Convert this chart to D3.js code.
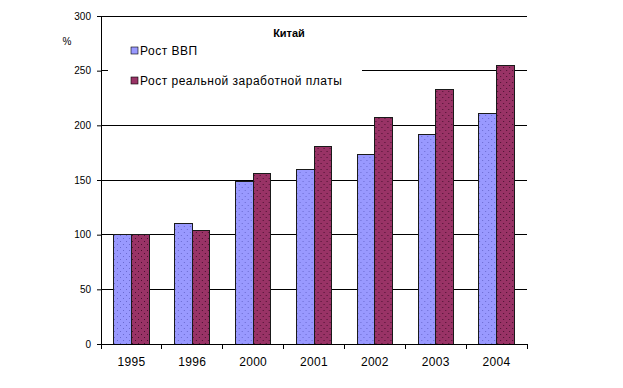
<!DOCTYPE html>
<meta charset="utf-8">
<script src="https://d3js.org/d3.v7.min.js"></script>
<style>
  body { margin: 0; background: #fff; }
  text { font-family: "Liberation Sans", Arial, sans-serif; fill: #000; }
</style>
<div id="my_dataviz"></div>
<script>

// data
var years = ["1995", "1996", "2000", "2001", "2002", "2003", "2004"];
var gdp = [100, 110, 149, 160, 173, 192, 211];
var wages = [100, 104, 156, 181, 207, 233, 255];
var yTicks = [0, 50, 100, 150, 200, 250, 300];
var seriesNames = ["Рост ВВП", "Рост реальной заработной платы"];
var title = "Китай";

var W = 623, H = 388;
var m = {left: 101, right: 527, top: 16, bottom: 344};

var svg = d3.select("#my_dataviz")
  .append("svg")
    .attr("width", W)
    .attr("height", H);

// dotted fills
var defs = svg.append("defs");
function dots(id, bg, dot) {
  var p = defs.append("pattern")
    .attr("id", id)
    .attr("patternUnits", "userSpaceOnUse")
    .attr("width", 6).attr("height", 6);
  p.append("rect").attr("width", 6).attr("height", 6).attr("fill", bg);
  p.append("rect").attr("x", 1).attr("y", 1).attr("width", 1).attr("height", 1).attr("fill", dot);
  p.append("rect").attr("x", 4).attr("y", 4).attr("width", 1).attr("height", 1).attr("fill", dot);
}
dots("pat0", "#9999ff", "#6a6ad0");
dots("pat1", "#993366", "#4a1030");
var fills = ["url(#pat0)", "url(#pat1)"];
var swatch = ["#9999ff", "#993366"];

var x = d3.scaleBand()
  .domain(years)
  .range([m.left, m.right])
  .padding(0);

var xSub = d3.scaleBand()
  .domain([0, 1])
  .range([0, x.bandwidth()])
  .paddingInner(0)
  .paddingOuter(0.72);

var y = d3.scaleLinear()
  .domain([0, 300])
  .range([m.bottom, m.top]);

// gridlines
svg.append("g")
  .selectAll("line")
  .data(yTicks.filter(function(d) { return d > 0; }))
  .enter()
  .append("line")
    .attr("x1", m.left).attr("x2", m.right)
    .attr("y1", function(d) { return y(d); })
    .attr("y2", function(d) { return y(d); })
    .attr("stroke", "#000")
    .attr("stroke-width", 1)
    .attr("shape-rendering", "crispEdges");

// bars
var data = years.map(function(yr, i) { return { year: yr, vals: [gdp[i], wages[i]] }; });
svg.append("g")
  .selectAll("g")
  .data(data)
  .enter()
  .append("g")
    .attr("transform", function(d) { return "translate(" + x(d.year) + ",0)"; })
  .selectAll("rect")
  .data(function(d) { return d.vals; })
  .enter()
  .append("rect")
    .attr("x", function(d, i) { return xSub(i); })
    .attr("width", xSub.bandwidth())
    .attr("y", function(d) { return y(d); })
    .attr("height", function(d) { return y(0) - y(d); })
    .attr("fill", function(d, i) { return fills[i]; })
    .attr("stroke", "#1a1a1a")
    .attr("stroke-width", 1)
    .attr("shape-rendering", "crispEdges");

// legend box covers the grid
svg.append("rect")
  .attr("x", 108).attr("y", 20)
  .attr("width", 254).attr("height", 76)
  .attr("fill", "#fff");

svg.append("text")
  .attr("x", 289).attr("y", 37)
  .attr("text-anchor", "middle")
  .style("font-size", "11px")
  .style("font-weight", "bold")
  .text(title);

var legend = svg.append("g")
  .selectAll("g")
  .data(seriesNames)
  .enter()
  .append("g")
    .attr("transform", function(d, i) { return "translate(131," + (47 + i * 30) + ")"; });
legend.append("rect")
  .attr("width", 7).attr("height", 7)
  .attr("fill", function(d, i) { return swatch[i]; })
  .attr("stroke", "#000")
  .attr("stroke-width", 0.6);
legend.append("text")
  .attr("x", 9).attr("y", 8)
  .style("font-size", "12px")
  .style("letter-spacing", "0.5px")
  .text(function(d) { return d; });

// y axis
var yAxis = svg.append("g")
  .attr("transform", "translate(" + m.left + ",0)")
  .call(d3.axisLeft(y).tickValues(yTicks).tickSize(4).tickPadding(6));
yAxis.select(".domain").attr("stroke", "#000");
yAxis.selectAll("text").style("font-size", "10px").attr("font-family", null);

svg.append("text")
  .attr("x", 67).attr("y", 45)
  .attr("text-anchor", "middle")
  .style("font-size", "10px")
  .text("%");

// x axis, ticks sit between categories
var xAxis = svg.append("g")
  .attr("transform", "translate(0," + m.bottom + ")")
  .call(d3.axisBottom(x).tickSize(0).tickPadding(13));
xAxis.select(".domain").remove();
xAxis.selectAll("text").style("font-size", "12px").style("letter-spacing", "0.3px").attr("font-family", null);
svg.append("line")
  .attr("x1", m.left).attr("x2", m.right)
  .attr("y1", m.bottom).attr("y2", m.bottom)
  .attr("stroke", "#000")
  .attr("shape-rendering", "crispEdges");
svg.append("g")
  .selectAll("line")
  .data(d3.range(years.length + 1))
  .enter()
  .append("line")
    .attr("x1", function(i) { return m.left + i * x.step(); })
    .attr("x2", function(i) { return m.left + i * x.step(); })
    .attr("y1", m.bottom).attr("y2", m.bottom + 5)
    .attr("stroke", "#000")
    .attr("shape-rendering", "crispEdges");

</script>
